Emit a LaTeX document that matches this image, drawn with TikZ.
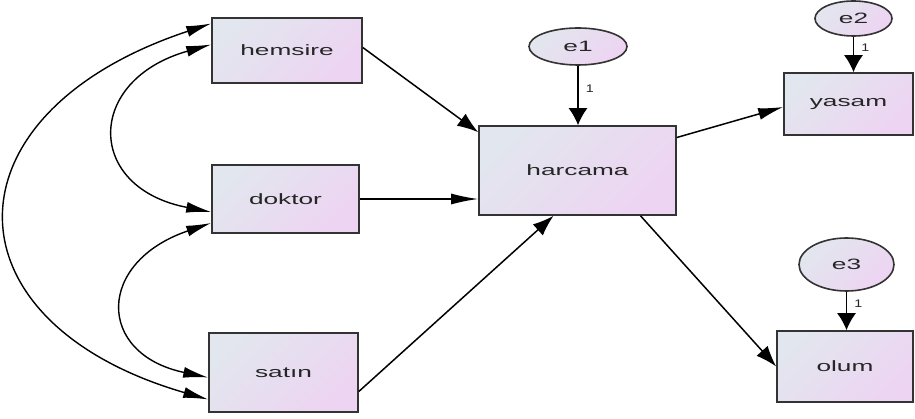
\documentclass[tikz,border=0pt]{standalone}
\usepackage{fontspec}
\usepackage{graphicx}
\setmainfont{Liberation Sans}
\usetikzlibrary{arrows.meta,calc,shapes.geometric}
\definecolor{fillA}{HTML}{E2E6EE}
\definecolor{fillB}{HTML}{EDD4F2}
\definecolor{edgec}{HTML}{333333}
\definecolor{txt}{HTML}{262626}
\newcommand{\sx}[1]{\scalebox{1.75}[1]{#1}}
\newcommand{\sone}[1]{\scalebox{1.3}[1]{#1}}
\tikzset{
  obs/.style={draw=edgec, line width=1.6pt, rectangle, inner sep=0pt,
    top color=fillA, bottom color=fillB, shading angle=45,
    font=\fontsize{15}{17}\selectfont, text=txt},
  err/.style={draw=edgec, line width=1.6pt, ellipse, inner sep=0pt,
    top color=fillA, bottom color=fillB, shading angle=45,
    font=\fontsize{15}{17}\selectfont, text=txt},
  ln/.style={line width=1.5pt},
  arrH/.style={ln, -{Latex[length=27pt,width=11pt]}},
  arrV/.style={ln, -{Latex[length=17pt,width=19pt]}},
  arrD/.style={ln, -{Latex[length=21pt,width=15pt]}},
  arrS/.style={ln, -{Latex[length=25pt,width=12pt]}},
  cov/.style={line width=1.4pt, {Latex[length=25pt,width=11pt]}-{Latex[length=25pt,width=11pt]}},
  one/.style={font=\fontsize{11}{12}\selectfont, inner sep=0pt, text=txt}
}
\begin{document}
\begin{tikzpicture}[x=1pt,y=-1pt]
\useasboundingbox[fill=white] (0,0) rectangle (915,419);
% observed variables
\node[obs, minimum width=150pt, minimum height=65pt] (hemsire) at (287,50.5) {\sx{hemsire}};
\node[obs, minimum width=147pt, minimum height=68pt] (doktor) at (285.5,199) {\sx{doktor}};
\node[obs, minimum width=149pt, minimum height=79pt] (satin) at (283.5,372.5) {\sx{satın}};
\node[obs, minimum width=197pt, minimum height=89pt] (harcama) at (577.5,170.5) {\sx{harcama}};
\node[obs, minimum width=129pt, minimum height=62pt] (yasam) at (848.5,104) {\sx{yasam}};
\node[obs, minimum width=136pt, minimum height=71pt] (olum) at (845,366.5) {\sx{olum}};
% errors
\node[err, minimum width=98pt, minimum height=37pt] (e1) at (578,46.5) {\sx{e1}};
\node[err, minimum width=77pt, minimum height=35pt] (e2) at (853.5,18.5) {\sx{e2}};
\node[err, minimum width=95pt, minimum height=53pt] (e3) at (846.5,264.5) {\sx{e3}};
% regression paths
\draw[arrD] ([yshift=3pt]hemsire.east) -- ([yshift=-7pt]harcama.north west);
\draw[arrH] (doktor.east) -- (doktor.east -| harcama.west);
\draw[arrD] ([yshift=-19pt]satin.east) -- ([xshift=-24pt]harcama.south);
\draw[arrS] ([yshift=33pt]harcama.east) -- ([yshift=-3pt]yasam.west);
\draw[arrD] ([xshift=63pt]harcama.south) -- (olum.west);
% error paths
\draw[arrV] (e1.south) -- (e1.south |- harcama.north) node[one, pos=0.38, right=7pt] (l1) {\sone{1}};
\draw[arrV] (e2.south) -- (e2.south |- yasam.north) node[one, pos=0.3, right=7pt] (l2) {\sone{1}};
\draw[arrV] (e3.south) -- (e3.south |- olum.north) node[one, pos=0.3, right=7pt] (l3) {\sone{1}};
% covariances
\draw[cov] ([yshift=6pt]hemsire.west) .. controls (85,80) and (85,188) .. ([yshift=-13pt]doktor.west);
\draw[cov] ([yshift=-24pt]doktor.west) .. controls (96,262) and (96,354) .. ([yshift=-5pt]satin.west);
\draw[cov] ([yshift=27pt]hemsire.west) .. controls (-59,113) and (-59,322) .. ([yshift=-27pt]satin.west);
\end{tikzpicture}
\end{document}
